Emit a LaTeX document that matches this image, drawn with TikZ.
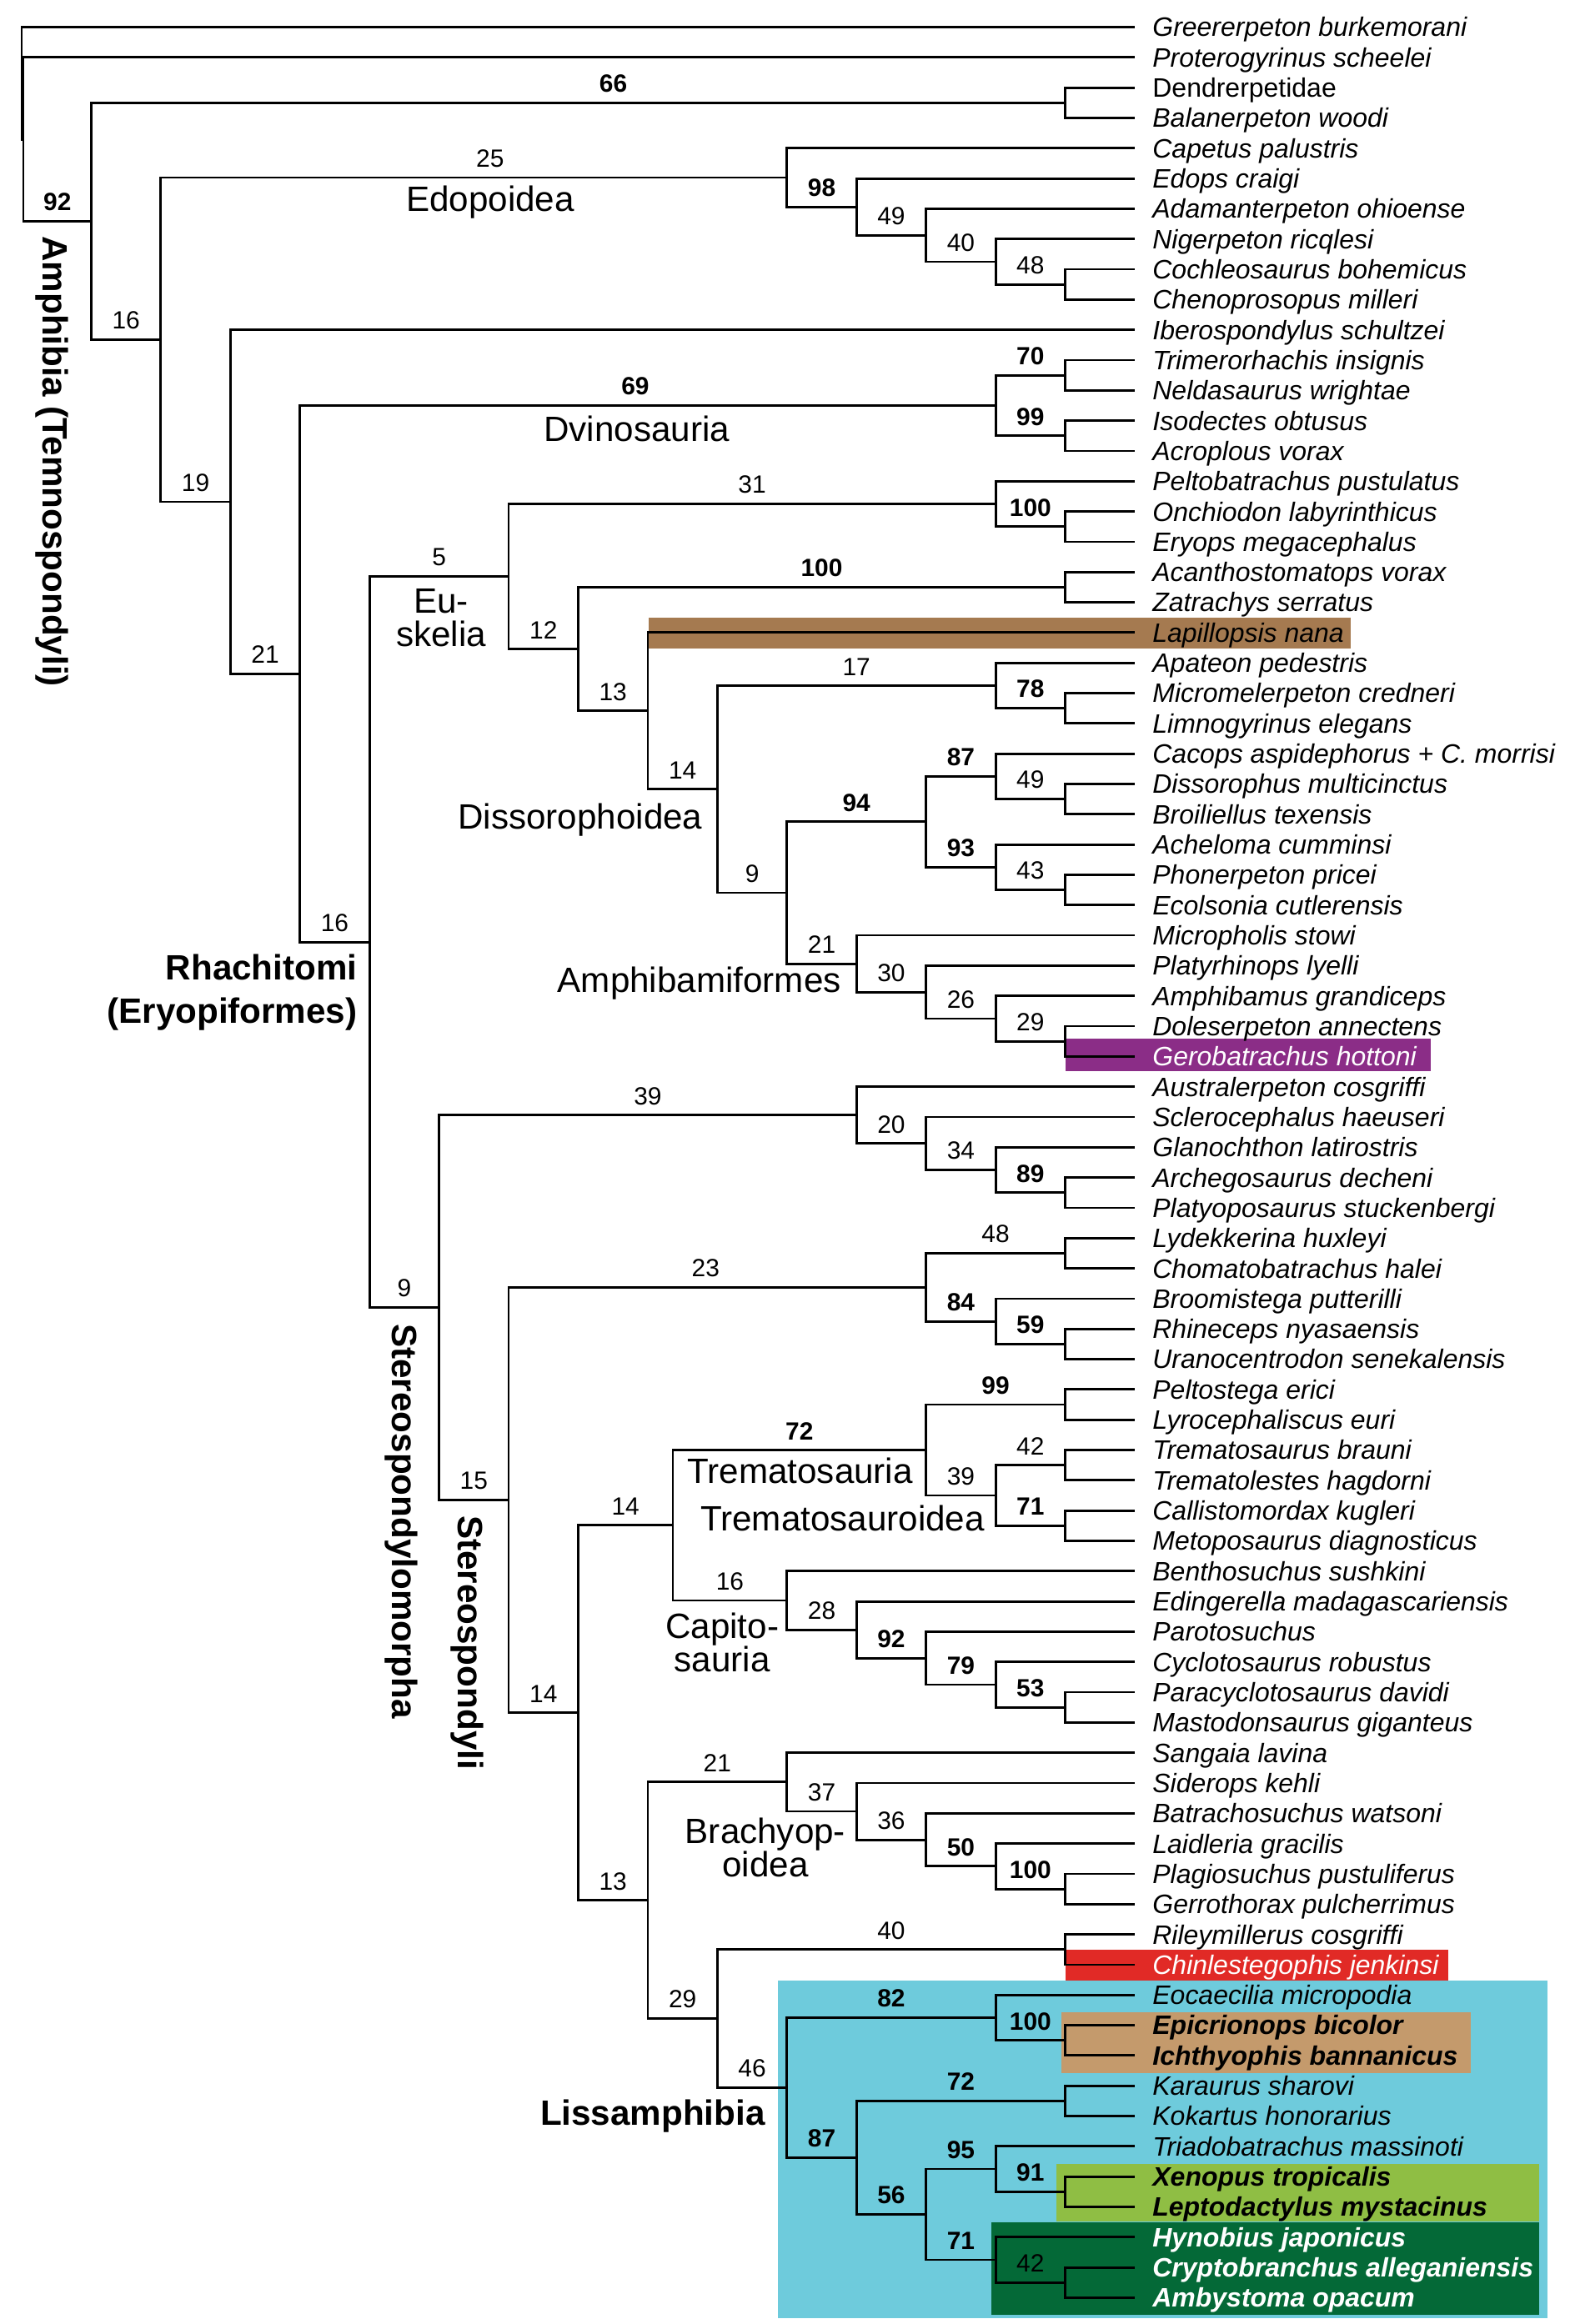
\documentclass[tikz,border=0pt]{standalone}
\usepackage{fontspec}
\setmainfont{Liberation Sans}
\usepackage{tikz}
\usetikzlibrary{positioning}
\definecolor{lapbrown}{HTML}{A57A50}
\definecolor{geropurple}{HTML}{8B2D87}
\definecolor{chinred}{HTML}{E12A26}
\definecolor{lisscyan}{HTML}{6ECBDC}
\definecolor{caectan}{HTML}{C49A6C}
\definecolor{froggreen}{HTML}{8FBE44}
\definecolor{salgreen}{HTML}{046937}

\begin{document}
\begin{tikzpicture}[x=0.8344cm, y=-0.3632cm, line width=0.8pt,
  taxon/.style={anchor=west, inner xsep=0.2cm, inner ysep=0pt, text height=6.5pt, text depth=0pt, font=\fontsize{9.1}{11}\selectfont\itshape},
  taxonb/.style={taxon, font=\fontsize{9.1}{11}\selectfont\bfseries\itshape},
  supp/.style={pos=.75, above=0.11cm, inner sep=0pt, font=\fontsize{8.5}{10}\selectfont},
  suppb/.style={supp, font=\fontsize{8.5}{10}\selectfont\bfseries},
  clade/.style={anchor=base, inner sep=0pt, font=\fontsize{12}{11.4}\selectfont},
  cladeb/.style={clade, font=\fontsize{12}{14.8}\selectfont\bfseries},
  twoline/.style={clade, anchor=center, align=center},
  vclade/.style={rotate=-90, anchor=west, inner sep=0pt, font=\fontsize{12}{14}\selectfont\bfseries}]
\useasboundingbox (-0.3116,0.105) rectangle (22.256,76.87);

% highlight boxes
\fill[lisscyan] (10.87,65.52) rectangle (21.93,76.67);
\fill[caectan] (14.94,66.57) rectangle (20.83,68.57);
\fill[froggreen] (14.87,71.58) rectangle (21.81,73.48);
\fill[salgreen] (13.94,73.5) rectangle (21.81,76.56);
\fill[lapbrown] (9.01,20.5) rectangle (19.10,21.52);
\fill[geropurple] (15.01,34.41) rectangle (20.25,35.48);
\fill[chinred] (15.0,64.5) rectangle (20.51,65.52);

% taxa
\node[taxon] (greer) at (16,1) {Greererpeton burkemorani};
\node[taxon] (proter) at (16,2) {Proterogyrinus scheelei};
\node[taxon, font=\fontsize{9.1}{11}\selectfont] (dendrp) at (16,3) {Dendrerpetidae};
\node[taxon] (balan) at (16,4) {Balanerpeton woodi};
\node[taxon] (capet) at (16,5) {Capetus palustris};
\node[taxon] (edops) at (16,6) {Edops craigi};
\node[taxon] (adama) at (16,7) {Adamanterpeton ohioense};
\node[taxon] (niger) at (16,8) {Nigerpeton ricqlesi};
\node[taxon] (cochl) at (16,9) {Cochleosaurus bohemicus};
\node[taxon] (cheno) at (16,10) {Chenoprosopus milleri};
\node[taxon] (ibero) at (16,11) {Iberospondylus schultzei};
\node[taxon] (trime) at (16,12) {Trimerorhachis insignis};
\node[taxon] (nelda) at (16,13) {Neldasaurus wrightae};
\node[taxon] (isode) at (16,14) {Isodectes obtusus};
\node[taxon] (acrop) at (16,15) {Acroplous vorax};
\node[taxon] (pelto) at (16,16) {Peltobatrachus pustulatus};
\node[taxon] (onchi) at (16,17) {Onchiodon labyrinthicus};
\node[taxon] (eryops) at (16,18) {Eryops megacephalus};
\node[taxon] (acant) at (16,19) {Acanthostomatops vorax};
\node[taxon] (zatra) at (16,20) {Zatrachys serratus};
\node[taxon] (lapil) at (16,21) {Lapillopsis nana};
\node[taxon] (apate) at (16,22) {Apateon pedestris};
\node[taxon] (micme) at (16,23) {Micromelerpeton credneri};
\node[taxon] (limno) at (16,24) {Limnogyrinus elegans};
\node[taxon] (cacop) at (16,25) {Cacops aspidephorus + C. morrisi};
\node[taxon] (dissph) at (16,26) {Dissorophus multicinctus};
\node[taxon] (broil) at (16,27) {Broiliellus texensis};
\node[taxon] (achel) at (16,28) {Acheloma cumminsi};
\node[taxon] (phone) at (16,29) {Phonerpeton pricei};
\node[taxon] (ecols) at (16,30) {Ecolsonia cutlerensis};
\node[taxon] (micph) at (16,31) {Micropholis stowi};
\node[taxon] (platy) at (16,32) {Platyrhinops lyelli};
\node[taxon] (amphg) at (16,33) {Amphibamus grandiceps};
\node[taxon] (doles) at (16,34) {Doleserpeton annectens};
\node[taxon, text=white] (gerob) at (16,35) {Gerobatrachus hottoni};
\node[taxon] (austr) at (16,36) {Australerpeton cosgriffi};
\node[taxon] (scler) at (16,37) {Sclerocephalus haeuseri};
\node[taxon] (glano) at (16,38) {Glanochthon latirostris};
\node[taxon] (arche) at (16,39) {Archegosaurus decheni};
\node[taxon] (platp) at (16,40) {Platyoposaurus stuckenbergi};
\node[taxon] (lydek) at (16,41) {Lydekkerina huxleyi};
\node[taxon] (choma) at (16,42) {Chomatobatrachus halei};
\node[taxon] (broom) at (16,43) {Broomistega putterilli};
\node[taxon] (rhine) at (16,44) {Rhineceps nyasaensis};
\node[taxon] (urano) at (16,45) {Uranocentrodon senekalensis};
\node[taxon] (pelte) at (16,46) {Peltostega erici};
\node[taxon] (lyroc) at (16,47) {Lyrocephaliscus euri};
\node[taxon] (trebr) at (16,48) {Trematosaurus brauni};
\node[taxon] (treha) at (16,49) {Trematolestes hagdorni};
\node[taxon] (calli) at (16,50) {Callistomordax kugleri};
\node[taxon] (metop) at (16,51) {Metoposaurus diagnosticus};
\node[taxon] (benth) at (16,52) {Benthosuchus sushkini};
\node[taxon] (eding) at (16,53) {Edingerella madagascariensis};
\node[taxon] (parot) at (16,54) {Parotosuchus};
\node[taxon] (cyclo) at (16,55) {Cyclotosaurus robustus};
\node[taxon] (parac) at (16,56) {Paracyclotosaurus davidi};
\node[taxon] (masto) at (16,57) {Mastodonsaurus giganteus};
\node[taxon] (sanga) at (16,58) {Sangaia lavina};
\node[taxon] (sider) at (16,59) {Siderops kehli};
\node[taxon] (batra) at (16,60) {Batrachosuchus watsoni};
\node[taxon] (laidl) at (16,61) {Laidleria gracilis};
\node[taxon] (plagi) at (16,62) {Plagiosuchus pustuliferus};
\node[taxon] (gerro) at (16,63) {Gerrothorax pulcherrimus};
\node[taxon] (rileym) at (16,64) {Rileymillerus cosgriffi};
\node[taxon, text=white] (chinl) at (16,65) {Chinlestegophis jenkinsi};
\node[taxon] (eocae) at (16,66) {Eocaecilia micropodia};
\node[taxonb] (epicr) at (16,67) {Epicrionops bicolor};
\node[taxonb] (ichth) at (16,68) {Ichthyophis bannanicus};
\node[taxon] (karau) at (16,69) {Karaurus sharovi};
\node[taxon] (kokar) at (16,70) {Kokartus honorarius};
\node[taxon] (triad) at (16,71) {Triadobatrachus massinoti};
\node[taxonb] (xenop) at (16,72) {Xenopus tropicalis};
\node[taxonb] (lepto) at (16,73) {Leptodactylus mystacinus};
\node[taxonb, text=white] (hynob) at (16,74) {Hynobius japonicus};
\node[taxonb, text=white] (crypt) at (16,75) {Cryptobranchus alleganiensis};
\node[taxonb, text=white] (ambys) at (16,76) {Ambystoma opacum};

% branch points
\coordinate (root) at (0,2.8531);
\coordinate (tetra) at (0.025,4.7061);
\coordinate (temno) at (1,7.4122);
\coordinate (dendr) at (15,3.5);
\coordinate (nd16) at (2,11.3245);
\coordinate (edopo) at (11,5.96875);
\coordinate (edo98) at (12,6.9375);
\coordinate (edo49) at (13,7.875);
\coordinate (edo40) at (14,8.75);
\coordinate (edo48) at (15,9.5);
\coordinate (nd19) at (3,16.6802);
\coordinate (nd21) at (4,22.3604);
\coordinate (dvino) at (14,13.5);
\coordinate (dvi70) at (15,12.5);
\coordinate (dvi99) at (15,14.5);
\coordinate (rhach) at (5,31.2207);
\coordinate (euske) at (7,19.1465);
\coordinate (eryo) at (14,16.75);
\coordinate (ery100) at (15,17.5);
\coordinate (eu12) at (8,21.543);
\coordinate (zatr100) at (15,19.5);
\coordinate (eu13) at (9,23.5859);
\coordinate (dissoid) at (10,26.1719);
\coordinate (apat17) at (14,22.75);
\coordinate (mic78) at (15,23.5);
\coordinate (dis9) at (11,29.5938);
\coordinate (dis94) at (13,27.25);
\coordinate (cac87) at (14,25.75);
\coordinate (cac49) at (15,26.5);
\coordinate (ach93) at (14,28.75);
\coordinate (ach43) at (15,29.5);
\coordinate (amphib) at (12,31.9375);
\coordinate (amb30) at (13,32.875);
\coordinate (amb26) at (14,33.75);
\coordinate (amb29) at (15,34.5);
\coordinate (stmorph) at (6,43.2949);
\coordinate (arch39) at (12,36.9375);
\coordinate (arch20) at (13,37.875);
\coordinate (arch34) at (14,38.75);
\coordinate (arch89) at (15,39.5);
\coordinate (stereo) at (7,49.6523);
\coordinate (rhin23) at (13,42.625);
\coordinate (lyd48) at (15,41.5);
\coordinate (rhin84) at (14,43.75);
\coordinate (rhin59) at (15,44.5);
\coordinate (st14a) at (8,56.6797);
\coordinate (st14b) at (9.36,50.4844);
\coordinate (trema) at (13,48);
\coordinate (pel99) at (15,46.5);
\coordinate (tremoid) at (14,49.5);
\coordinate (tr42) at (15,48.5);
\coordinate (tr71) at (15,50.5);
\coordinate (capito) at (11,52.9688);
\coordinate (cap28) at (12,53.9375);
\coordinate (cap92) at (13,54.875);
\coordinate (cap79) at (14,55.75);
\coordinate (cap53) at (15,56.5);
\coordinate (st13) at (9,62.875);
\coordinate (brachy) at (11,58.9688);
\coordinate (br37) at (12,59.9375);
\coordinate (br36) at (13,60.875);
\coordinate (br50) at (14,61.75);
\coordinate (br100) at (15,62.5);
\coordinate (st29) at (10,66.7813);
\coordinate (riley) at (15,64.5);
\coordinate (liss) at (11,69.0625);
\coordinate (gymno) at (14,66.75);
\coordinate (caec) at (15,67.5);
\coordinate (batr) at (12,71.375);
\coordinate (kara) at (15,69.5);
\coordinate (an56) at (13,73.25);
\coordinate (sali95) at (14,71.75);
\coordinate (anura) at (15,72.5);
\coordinate (caud) at (14,74.75);
\coordinate (cry42) at (15,75.5);

% branches
\draw (root) |- (greer);
\draw (root) |- (tetra);
\draw (tetra) |- (proter);
\draw (tetra) |- node[suppb] (temnol) {92} (temno);
\draw (temno) |- node[suppb, pos=.768] (dendrl) {66} (dendr);
\draw (temno) |- node[supp] (nd16l) {16} (nd16);
\draw (dendr) |- (dendrp);
\draw (dendr) |- (balan);
\draw (nd16) |- node[supp, pos=.763] (edopol) {25} (edopo);
\draw (nd16) |- node[supp] (nd19l) {19} (nd19);
\draw (edopo) |- (capet);
\draw (edopo) |- node[suppb] (edo98l) {98} (edo98);
\draw (edo98) |- (edops);
\draw (edo98) |- node[supp] (edo49l) {49} (edo49);
\draw (edo49) |- (adama);
\draw (edo49) |- node[supp] (edo40l) {40} (edo40);
\draw (edo40) |- (niger);
\draw (edo40) |- node[supp] (edo48l) {48} (edo48);
\draw (edo48) |- (cochl);
\draw (edo48) |- (cheno);
\draw (nd19) |- (ibero);
\draw (nd19) |- node[supp] (nd21l) {21} (nd21);
\draw (nd21) |- node[suppb, pos=.741] (dvinol) {69} (dvino);
\draw (nd21) |- node[supp] (rhachl) {16} (rhach);
\draw (dvino) |- node[suppb] (dvi70l) {70} (dvi70);
\draw (dvino) |- node[suppb] (dvi99l) {99} (dvi99);
\draw (dvi70) |- (trime);
\draw (dvi70) |- (nelda);
\draw (dvi99) |- (isode);
\draw (dvi99) |- (acrop);
\draw (rhach) |- node[supp] (euskel) {5} (euske);
\draw (rhach) |- node[supp] (stmorphl) {9} (stmorph);
\draw (euske) |- node[supp] (eryol) {31} (eryo);
\draw (euske) |- node[supp] (eu12l) {12} (eu12);
\draw (eryo) |- (pelto);
\draw (eryo) |- node[suppb] (ery100l) {100} (ery100);
\draw (ery100) |- (onchi);
\draw (ery100) |- (eryops);
\draw (eu12) |- node[suppb] (zatr100l) {100} (zatr100);
\draw (eu12) |- node[supp] (eu13l) {13} (eu13);
\draw (zatr100) |- (acant);
\draw (zatr100) |- (zatra);
\draw (eu13) |- (lapil);
\draw (eu13) |- node[supp] (dissoidl) {14} (dissoid);
\draw (dissoid) |- node[supp] (apat17l) {17} (apat17);
\draw (dissoid) |- node[supp] (dis9l) {9} (dis9);
\draw (apat17) |- (apate);
\draw (apat17) |- node[suppb] (mic78l) {78} (mic78);
\draw (mic78) |- (micme);
\draw (mic78) |- (limno);
\draw (dis9) |- node[suppb] (dis94l) {94} (dis94);
\draw (dis9) |- node[supp] (amphibl) {21} (amphib);
\draw (dis94) |- node[suppb] (cac87l) {87} (cac87);
\draw (dis94) |- node[suppb] (ach93l) {93} (ach93);
\draw (cac87) |- (cacop);
\draw (cac87) |- node[supp] (cac49l) {49} (cac49);
\draw (cac49) |- (dissph);
\draw (cac49) |- (broil);
\draw (ach93) |- (achel);
\draw (ach93) |- node[supp] (ach43l) {43} (ach43);
\draw (ach43) |- (phone);
\draw (ach43) |- (ecols);
\draw (amphib) |- (micph);
\draw (amphib) |- node[supp] (amb30l) {30} (amb30);
\draw (amb30) |- (platy);
\draw (amb30) |- node[supp] (amb26l) {26} (amb26);
\draw (amb26) |- (amphg);
\draw (amb26) |- node[supp] (amb29l) {29} (amb29);
\draw (amb29) |- (doles);
\draw (amb29) |- (gerob);
\draw (stmorph) |- node[supp] (arch39l) {39} (arch39);
\draw (stmorph) |- node[supp] (stereol) {15} (stereo);
\draw (arch39) |- (austr);
\draw (arch39) |- node[supp] (arch20l) {20} (arch20);
\draw (arch20) |- (scler);
\draw (arch20) |- node[supp] (arch34l) {34} (arch34);
\draw (arch34) |- (glano);
\draw (arch34) |- node[suppb] (arch89l) {89} (arch89);
\draw (arch89) |- (arche);
\draw (arch89) |- (platp);
\draw (stereo) |- node[supp, pos=.736] (rhin23l) {23} (rhin23);
\draw (stereo) |- node[supp] (st14al) {14} (st14a);
\draw (rhin23) |- node[supp] (lyd48l) {48} (lyd48);
\draw (rhin23) |- node[suppb] (rhin84l) {84} (rhin84);
\draw (lyd48) |- (lydek);
\draw (lyd48) |- (choma);
\draw (rhin84) |- (broom);
\draw (rhin84) |- node[suppb] (rhin59l) {59} (rhin59);
\draw (rhin59) |- (rhine);
\draw (rhin59) |- (urano);
\draw (st14a) |- node[supp] (st14bl) {14} (st14b);
\draw (st14a) |- node[supp] (st13l) {13} (st13);
\draw (st14b) |- node[suppb] (tremal) {72} (trema);
\draw (st14b) |- node[supp] (capitol) {16} (capito);
\draw (trema) |- node[suppb] (pel99l) {99} (pel99);
\draw (trema) |- node[supp] (tremoidl) {39} (tremoid);
\draw (pel99) |- (pelte);
\draw (pel99) |- (lyroc);
\draw (tremoid) |- node[supp] (tr42l) {42} (tr42);
\draw (tremoid) |- node[suppb] (tr71l) {71} (tr71);
\draw (tr42) |- (trebr);
\draw (tr42) |- (treha);
\draw (tr71) |- (calli);
\draw (tr71) |- (metop);
\draw (capito) |- (benth);
\draw (capito) |- node[supp] (cap28l) {28} (cap28);
\draw (cap28) |- (eding);
\draw (cap28) |- node[suppb] (cap92l) {92} (cap92);
\draw (cap92) |- (parot);
\draw (cap92) |- node[suppb] (cap79l) {79} (cap79);
\draw (cap79) |- (cyclo);
\draw (cap79) |- node[suppb] (cap53l) {53} (cap53);
\draw (cap53) |- (parac);
\draw (cap53) |- (masto);
\draw (st13) |- node[supp] (brachyl) {21} (brachy);
\draw (st13) |- node[supp] (st29l) {29} (st29);
\draw (brachy) |- (sanga);
\draw (brachy) |- node[supp] (br37l) {37} (br37);
\draw (br37) |- (sider);
\draw (br37) |- node[supp] (br36l) {36} (br36);
\draw (br36) |- (batra);
\draw (br36) |- node[suppb] (br50l) {50} (br50);
\draw (br50) |- (laidl);
\draw (br50) |- node[suppb] (br100l) {100} (br100);
\draw (br100) |- (plagi);
\draw (br100) |- (gerro);
\draw (st29) |- node[supp] (rileyl) {40} (riley);
\draw (st29) |- node[supp] (lissl) {46} (liss);
\draw (riley) |- (rileym);
\draw (riley) |- (chinl);
\draw (liss) |- node[suppb] (gymnol) {82} (gymno);
\draw (liss) |- node[suppb] (batrl) {87} (batr);
\draw (gymno) |- (eocae);
\draw (gymno) |- node[suppb] (caecl) {100} (caec);
\draw (caec) |- (epicr);
\draw (caec) |- (ichth);
\draw (batr) |- node[suppb] (karal) {72} (kara);
\draw (batr) |- node[suppb] (an56l) {56} (an56);
\draw (kara) |- (karau);
\draw (kara) |- (kokar);
\draw (an56) |- node[suppb] (sali95l) {95} (sali95);
\draw (an56) |- node[suppb] (caudl) {71} (caud);
\draw (sali95) |- (triad);
\draw (sali95) |- node[suppb] (anural) {91} (anura);
\draw (anura) |- (xenop);
\draw (anura) |- (lepto);
\draw (caud) |- (hynob);
\draw (caud) |- node[supp] (cry42l) {42} (cry42);
\draw (cry42) |- (crypt);
\draw (cry42) |- (ambys);

% clade names
\node[vclade] (amphlab) at (0.431,7.87) {Amphibia (Temnospondyli)};
\node[vclade] (stmorphlab) at (5.453,43.8) {Stereospondylomorpha};
\node[vclade] (stereolab) at (6.41,50.13) {Stereospondyli};
\node[cladeb, anchor=east, align=right] (rhachlab) at (4.84,32.9) {Rhachitomi\\(Eryopiformes)};
\node[clade] (edopolab) at (6.736,7.08) {Edopoidea};
\node[clade] (dvinolab) at (8.84,14.68) {Dvinosauria};
\node[twoline] (euskelab) at (6.03,20.52) {Eu-\\skelia};
\node[clade] (dissolab) at (8.03,27.5) {Dissorophoidea};
\node[clade] (amphiblab) at (9.74,32.89) {Amphibamiformes};
\node[clade] (tremalab) at (11.19,49.09) {Trematosauria};
\node[clade] (tremoidlab) at (11.80,50.68) {Trematosauroidea};
\node[twoline] (capitolab) at (10.07,54.35) {Capito-\\sauria};
\node[twoline] (brachylab) at (10.69,61.14) {Brachyop-\\oidea};
\node[cladeb] (lisslab) at (9.07,70.31) {Lissamphibia};
\end{tikzpicture}
\end{document}
